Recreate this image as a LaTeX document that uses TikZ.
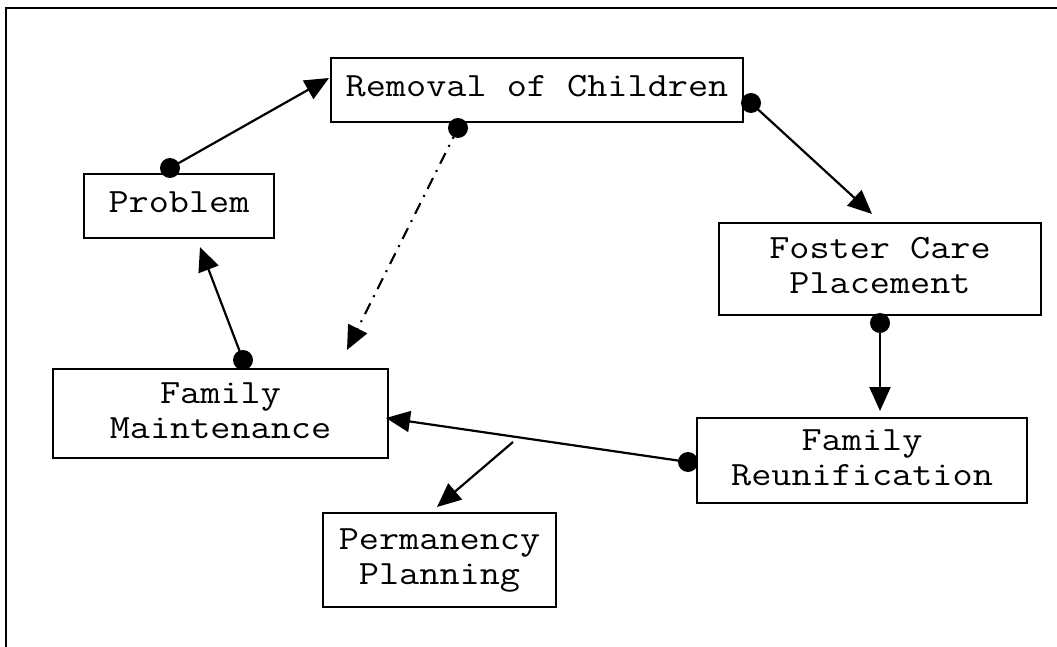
\documentclass[tikz,border=0pt]{standalone}
\usepackage{graphicx}
\usetikzlibrary{arrows.meta}
\newcommand{\boxtext}[1]{\scalebox{1.15}[1]{\fontsize{34}{35}\selectfont\ttfamily\begin{tabular}{@{}c@{}}#1\end{tabular}}}
\tikzset{
  box/.style={draw, line width=1.6pt, rectangle, inner sep=0pt},
  conn/.style={line width=2.2pt, -{Triangle[length=24pt,width=21pt]}},
  dotdash/.style={conn, dash pattern=on 12pt off 7pt on 2pt off 7pt},
  blob/.style={fill=black}
}
\begin{document}
\begin{tikzpicture}[x=1pt,y=-1pt]
\useasboundingbox (0,0) rectangle (1057,647);
% outer frame (only left and top edges are visible)
\draw[line width=1.8pt] (6,647) -- (6,8) -- (1057,8);

% boxes
\node[box, minimum width=412pt, minimum height=64pt] (rem) at (537,90) {\boxtext{Removal of Children}};
\node[box, minimum width=190pt, minimum height=64pt] (prob) at (179,206) {\boxtext{Problem}};
\node[box, minimum width=322pt, minimum height=92pt] (foster) at (880,269) {\boxtext{Foster Care\\Placement}};
\node[box, minimum width=330pt, minimum height=85pt] (reun) at (862,460.5) {\boxtext{Family\\Reunification}};
\node[box, minimum width=335pt, minimum height=89pt] (maint) at (220.5,413.5) {\boxtext{Family\\Maintenance}};
\node[box, minimum width=233pt, minimum height=94pt] (perm) at (439.5,560) {\boxtext{Permanency\\Planning}};

% connector end points
\coordinate (d1) at (170,168);  \coordinate (t1) at (329,78);
\coordinate (d2) at (751,103);  \coordinate (t2) at (872,214);
\coordinate (d3) at (880,323);  \coordinate (t3) at (880,411);
\coordinate (d4) at (688,462);  \coordinate (t4) at (386,418);
\coordinate (s5) at (513,442);  \coordinate (t5) at (437,507);
\coordinate (d6) at (243,360);  \coordinate (t6) at (200,247);
\coordinate (d7) at (458,128);  \coordinate (t7) at (347,350);

% connectors
\draw[conn] (d1) -- (t1);
\draw[conn] (d2) -- (t2);
\draw[conn] (d3) -- (t3);
\draw[conn] (d4) -- (t4);
\draw[conn] (s5) -- (t5);
\draw[conn] (d6) -- (t6);
\draw[dotdash] (d7) -- (t7);

% dots
\foreach \p in {d1,d2,d3,d4,d6,d7} \fill[blob] (\p) circle (10pt);
\end{tikzpicture}
\end{document}
